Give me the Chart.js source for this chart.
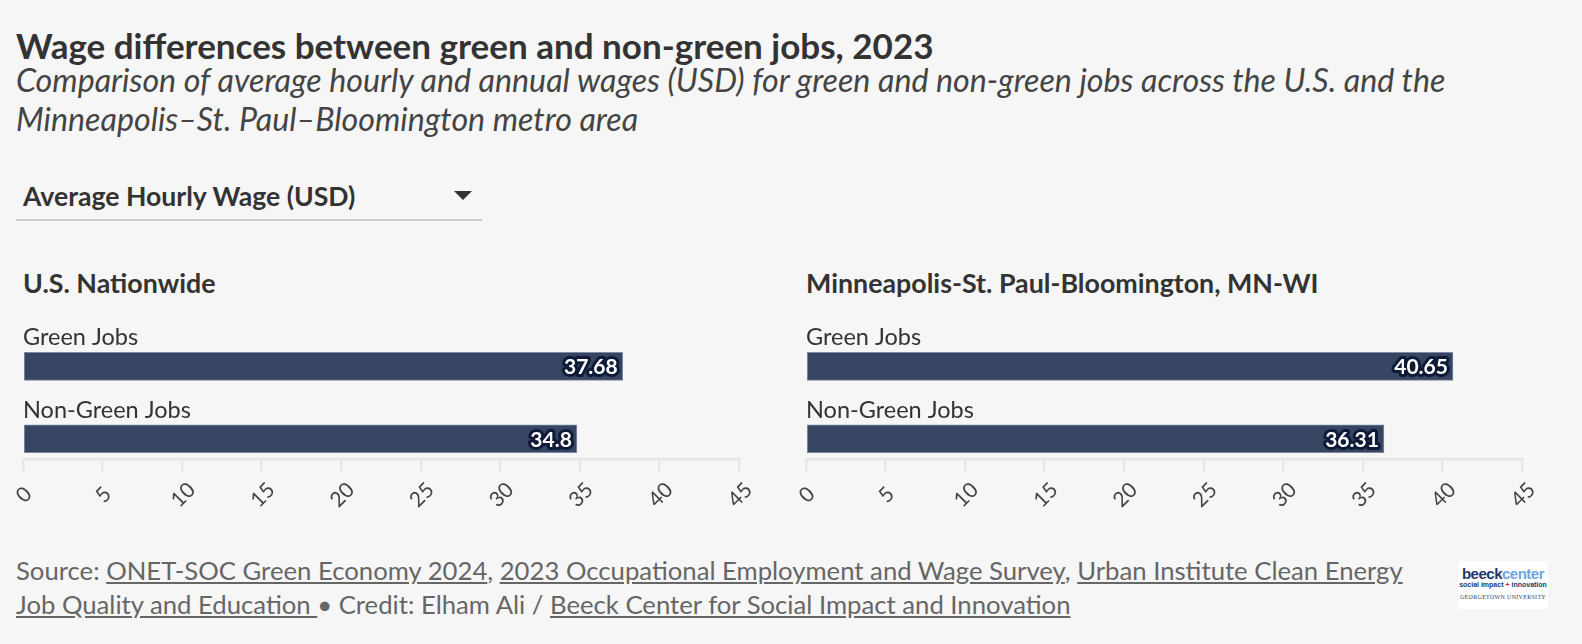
<!DOCTYPE html>
<html>
<head>
<meta charset="utf-8">
<script src="https://cdn.jsdelivr.net/npm/chart.js@4"></script>
<style>
  html, body { margin:0; padding:0; }
  body { width:1582px; height:644px; background:#f6f6f6; position:relative; overflow:hidden; font-family:Lato, "Noto Sans", sans-serif; color:#333; }
  .abs { position:absolute; white-space:nowrap; }
  #title { left:16px; top:25px; font-size:35px; font-weight:bold; line-height:40px; color:#333; }
  #sub { left:16px; top:60px; font-size:32.2px; font-style:italic; line-height:39px; color:#444; }
  #drop { left:23px; top:181px; font-size:26.6px; font-weight:bold; line-height:30px; color:#333; }
  #dropline { left:16px; top:219px; width:466px; height:2px; background:#ccc; }
  #tri { left:454px; top:191px; width:0; height:0; border-left:9px solid transparent; border-right:9px solid transparent; border-top:9px solid #333; }
  .panel { top:268px; font-size:26.8px; font-weight:bold; line-height:30px; color:#333; }
  #foot { left:16px; top:553px; font-size:25.7px; line-height:34px; color:#666; }
  #foot a { color:#666; text-decoration:underline; }
  #logo { left:1458px; top:561px; width:90px; height:48px; background:#fff; text-align:center; }
  #logo .b1 { font:bold 15px Arial, "Liberation Sans", sans-serif; letter-spacing:-0.5px; margin-top:6px; line-height:14px; }
  #logo .b2 { font:bold 7px Arial, "Liberation Sans", sans-serif; color:#1b3a6b; line-height:8px; }
  #logo .b3 { font:6px "Liberation Serif", serif; color:#445; letter-spacing:0.3px; margin-top:5px; }
  canvas { position:absolute; }
</style>
</head>
<body>
<div id="title" class="abs">Wage differences between green and non-green jobs, 2023</div>
<div id="sub" class="abs">Comparison of average hourly and annual wages (USD) for green and non-green jobs across the U.S. and the<br>Minneapolis–St. Paul–Bloomington metro area</div>
<div id="drop" class="abs">Average Hourly Wage (USD)</div>
<div id="tri" class="abs"></div>
<div id="dropline" class="abs"></div>
<div class="abs panel" style="left:23px">U.S. Nationwide</div>
<div class="abs panel" style="left:806px">Minneapolis-St. Paul-Bloomington, MN-WI</div>
<div style="position:absolute;left:0;top:300px;width:760px;height:230px"><canvas id="usChart"></canvas></div>
<div style="position:absolute;left:783px;top:300px;width:760px;height:230px"><canvas id="mspChart"></canvas></div>
<div id="foot" class="abs">Source: <a>ONET-SOC Green Economy 2024</a>, <a>2023 Occupational Employment and Wage Survey</a>, <a>Urban Institute Clean Energy</a><br><a>Job Quality and Education </a>• Credit: Elham Ali / <a>Beeck Center for Social Impact and Innovation</a></div>
<div id="logo" class="abs">
  <div class="b1"><span style="color:#1b3a6b">beeck</span><span style="color:#6fa8dc">center</span></div>
  <div class="b2">social impact <span style="color:#e02020">+</span> innovation</div>
  <div class="b3">GEORGETOWN UNIVERSITY</div>
</div>
<script>
  const categories = ['Green Jobs', 'Non-Green Jobs'];
  const usWage = [37.68, 34.8];
  const mspWage = [40.65, 36.31];
  const xMax = 45;
  const xStep = 5;

  // category names above each bar, outlined value at bar end,
  // and x tick labels rotated around their centre
  const barText = {
    id: 'barText',
    afterDatasetsDraw(chart) {
      const ctx = chart.ctx;
      const meta = chart.getDatasetMeta(0);
      meta.data.forEach((bar, i) => {
        const v = chart.data.datasets[0].data[i].x;
        ctx.save();
        ctx.font = '23.5px Lato';
        ctx.fillStyle = '#333';
        ctx.textAlign = 'left';
        ctx.textBaseline = 'alphabetic';
        ctx.fillText(categories[i], chart.chartArea.left, bar.y - bar.height / 2 - 7);
        ctx.font = 'bold 21px Lato';
        ctx.textAlign = 'right';
        ctx.textBaseline = 'middle';
        ctx.lineJoin = 'round';
        ctx.lineWidth = 6;
        ctx.strokeStyle = '#0e1a36';
        ctx.strokeText(String(v), bar.x - 5, bar.y + 1);
        ctx.fillStyle = '#fff';
        ctx.fillText(String(v), bar.x - 5, bar.y + 1);
        ctx.restore();
      });
      const xs = chart.scales.x;
      xs.ticks.forEach(t => {
        ctx.save();
        ctx.translate(xs.getPixelForValue(t.value) + 1, chart.chartArea.bottom + 36);
        ctx.rotate(-Math.PI / 4);
        ctx.font = '21px Lato';
        ctx.fillStyle = '#444';
        ctx.textAlign = 'center';
        ctx.textBaseline = 'middle';
        ctx.fillText(t.label, 0, 0);
        ctx.restore();
      });
    }
  };

  function makeChart(id, values) {
    return new Chart(document.getElementById(id), {
      type: 'bar',
      data: {
        datasets: [{
          data: values.map((v, i) => ({ x: v, y: i })),
          backgroundColor: '#374563',
          borderColor: '#7d8aa4',
          borderWidth: 1,
          borderSkipped: false,
          barThickness: 28
        }]
      },
      options: {
        indexAxis: 'y',
        responsive: true, maintainAspectRatio: false,
        animation: false,
        layout: { padding: { left: 23, right: 19, top: 30.25, bottom: 9 } },
        plugins: { legend: { display: false }, tooltip: { enabled: false } },
        scales: {
          y: { type: 'linear', offset: false, min: -0.5, max: 1.28, reverse: true, display: false },
          x: {
            min: 0, max: xMax,
            afterFit: s => { s.height = 62; },
            ticks: { stepSize: xStep, minRotation: 45, maxRotation: 45, color: 'rgba(0,0,0,0)', font: { size: 21, family: 'Lato' } },
            grid: { drawOnChartArea: false, tickLength: 12, color: '#e6e6e6', lineWidth: 2.5 },
            border: { color: '#e6e6e6', width: 2.5 }
          }
        }
      },
      plugins: [barText]
    });
  }

  makeChart('usChart', usWage);
  makeChart('mspChart', mspWage);
</script>
</body>
</html>
